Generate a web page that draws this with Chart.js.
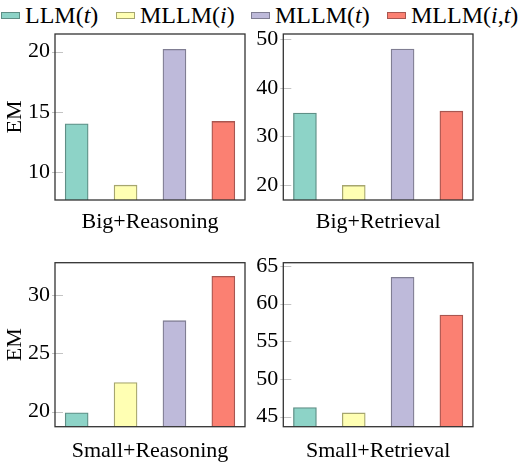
<!DOCTYPE html>
<html>
<head>
<meta charset="utf-8">
<script src="https://cdn.jsdelivr.net/npm/chart.js@4.4.1/dist/chart.umd.min.js"></script>
<style>
  html, body { margin: 0; padding: 0; background: #fff; }
  #wrap { position: relative; width: 520px; height: 464px; overflow: hidden; font-family: "Liberation Serif", serif; }
  #wrap canvas { position: absolute; }
  #legend-container ul { list-style: none; margin: 0; padding: 0; }
  #legend-container li { position: absolute; top: 0; display: flex; align-items: center; height: 30px; font-size: 24px; white-space: nowrap; }
  #legend-container li span { display: inline-block; width: 17px; height: 5px; margin-right: 5px; border: 1px solid; }
</style>
</head>
<body>
<div id="wrap">
  <div id="legend-container"></div>
  <canvas id="c0"></canvas>
  <canvas id="c1"></canvas>
  <canvas id="c2"></canvas>
  <canvas id="c3"></canvas>
</div>
<script>
// data
const methods = ['LLM(t)', 'MLLM(i)', 'MLLM(t)', 'MLLM(i,t)'];
const panels = ['Big+Reasoning', 'Big+Retrieval', 'Small+Reasoning', 'Small+Retrieval'];
const bigReasoning = [14.0, 8.9, 20.2, 14.2];
const bigRetrieval = [34.8, 19.9, 48.0, 35.2];
const smallReasoning = [19.9, 22.5, 27.8, 31.6];
const smallRetrieval = [46.2, 45.5, 63.5, 58.5];
const yMin = [7.67, 16.9, 18.71, 43.67];
const yMax = [21.47, 51.1, 32.77, 65.44];
const yStep = [5, 10, 5, 5];

const fills = ['#8DD3C7', '#FFFFB3', '#BEBADA', '#FB8072'];
const edges = ['#5F8F86', '#A6A66F', '#807E93', '#A85650'];

// where each canvas sits and how its axes are sized
const boxes = [
  {left: 0,   top: 24,  w: 248, h: 211, padTop: 10,   yw: 55,   xh: 35,   ytitle: true},
  {left: 250, top: 24,  w: 226, h: 211, padTop: 10,   yw: 33.3, xh: 35,   ytitle: false},
  {left: 0,   top: 250, w: 248, h: 214, padTop: 12.7, yw: 55,   xh: 37.3, ytitle: true},
  {left: 250, top: 250, w: 226, h: 214, padTop: 12.7, yw: 33.3, xh: 37.3, ytitle: false}
];
const values = [bigReasoning, bigRetrieval, smallReasoning, smallRetrieval];

function mathLabel(s) {
  // variables in the brackets are set in italics
  return s.replace(/\(([^)]*)\)/, (m, v) => '(' + v.split(',').map(p => '<i>' + p + '</i>').join(',') + ')');
}

// legend shared by the four panels
const legendX = [1, 116, 251, 387];
const ul = document.createElement('ul');
methods.forEach((m, i) => {
  const li = document.createElement('li');
  li.style.left = legendX[i] + 'px';
  const box = document.createElement('span');
  box.style.background = fills[i];
  box.style.borderColor = edges[i];
  const txt = document.createElement('p');
  txt.style.margin = 0;
  txt.innerHTML = mathLabel(m);
  li.appendChild(box);
  li.appendChild(txt);
  ul.appendChild(li);
});
document.getElementById('legend-container').appendChild(ul);

const serif = {family: "'Liberation Serif', serif", size: 22};

const framePlugin = {
  id: 'frame',
  afterDatasetsDraw(chart) {
    const {ctx, chartArea: a, scales: {y}} = chart;
    ctx.save();
    // tick marks crossing the left axis
    ctx.strokeStyle = '#c4c4c4';
    ctx.lineWidth = 1;
    y.ticks.forEach(t => {
      const py = Math.round(y.getPixelForValue(t.value)) + 0.5;
      ctx.beginPath();
      ctx.moveTo(a.left - 3, py);
      ctx.lineTo(a.left + 8, py);
      ctx.stroke();
    });
    ctx.strokeStyle = '#333';
    ctx.lineWidth = 1.3;
    ctx.strokeRect(a.left, a.top, a.right - a.left, a.bottom - a.top);
    ctx.restore();
  }
};

function drawPanels() {
  boxes.forEach((b, k) => {
    const cv = document.getElementById('c' + k);
    cv.width = b.w;
    cv.height = b.h;
    cv.style.left = b.left + 'px';
    cv.style.top = b.top + 'px';
    cv.style.width = b.w + 'px';
    cv.style.height = b.h + 'px';

    new Chart(cv, {
      type: 'bar',
      data: {
        datasets: [{
          data: values[k].map((v, i) => ({x: i, y: v})),
          backgroundColor: fills,
          borderColor: edges,
          borderWidth: 1.3,
          borderSkipped: 'start',
          barThickness: 23
        }]
      },
      options: {
        responsive: false,
        animation: false,
        events: [],
        layout: {padding: {top: b.padTop, right: 3, left: 0, bottom: 0}},
        plugins: {legend: {display: false}, tooltip: {enabled: false}},
        scales: {
          x: {
            type: 'linear',
            min: -0.443,
            max: 3.443,
            offset: false,
            grid: {display: false, drawTicks: false},
            border: {display: false},
            ticks: {display: false},
            title: {display: true, text: panels[k], color: '#000', font: serif, padding: 0},
            afterFit(s) { s.height = b.xh; s.paddingLeft = 0; s.paddingRight = 0; }
          },
          y: {
            min: yMin[k],
            max: yMax[k],
            grid: {display: false, drawTicks: false},
            border: {display: false},
            ticks: {stepSize: yStep[k], includeBounds: false, color: '#000', font: serif, padding: 5},
            afterBuildTicks(s) { s.ticks = s.ticks.filter(t => Math.abs(t.value / yStep[k] - Math.round(t.value / yStep[k])) < 1e-6); },
            title: {display: b.ytitle, text: 'EM', color: '#000', font: serif, padding: {top: 2, bottom: 0}},
            afterFit(s) { s.width = b.yw; s.paddingTop = 0; s.paddingBottom = 0; }
          }
        }
      },
      plugins: [framePlugin]
    });
  });
}

Promise.all([
  document.fonts.load("22px 'Liberation Serif'"),
  document.fonts.load("italic 22px 'Liberation Serif'")
]).then(drawPanels, drawPanels);
</script>
</body>
</html>
